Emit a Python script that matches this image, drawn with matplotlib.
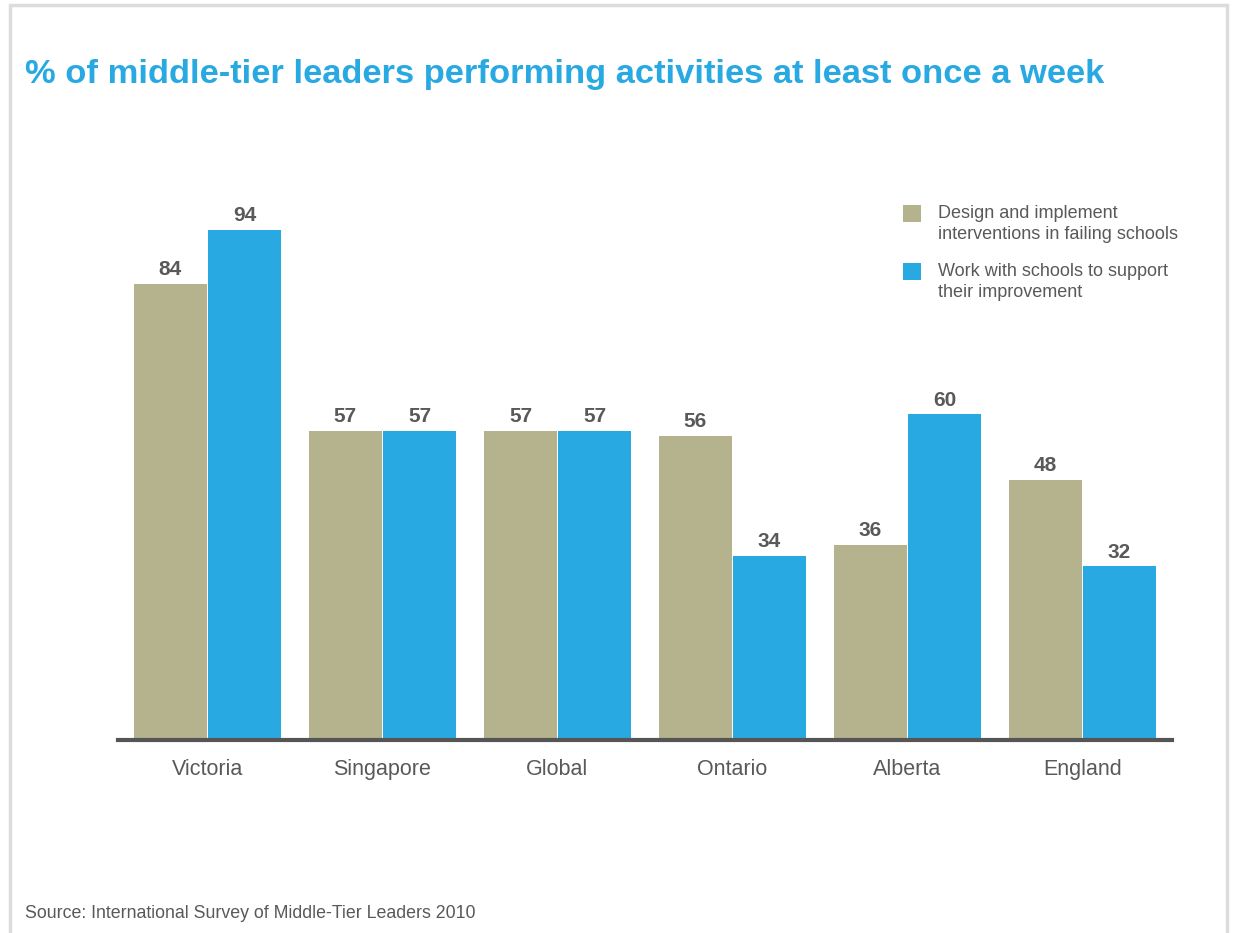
import matplotlib
matplotlib.use("Agg")
import matplotlib.pyplot as plt
import numpy as np
from matplotlib.patches import Rectangle

plt.rcParams['font.family'] = ['Liberation Sans', 'DejaVu Sans']

categories = ["Victoria", "Singapore", "Global", "Ontario", "Alberta", "England"]
interventions = [84, 57, 57, 56, 36, 48]
support = [94, 57, 57, 34, 60, 32]
series_labels = ["Design and implement\ninterventions in failing schools",
                 "Work with schools to support\ntheir improvement"]
title = "% of middle-tier leaders performing activities at least once a week"
source = "Source: International Survey of Middle-Tier Leaders 2010"

OLIVE = "#B5B38E"
BLUE = "#29A9E1"
TEXT = "#595959"

W, H = 1233, 933
fig = plt.figure(figsize=(W / 100, H / 100), dpi=100)
fig.patch.set_facecolor("white")


def fx(px):
    return px / W


def fy(py):
    return 1 - py / H


# light frame around the panel (open at the bottom)
fig.add_artist(Rectangle((fx(10), -0.05), fx(1227) - fx(10), fy(5) + 0.05,
                         transform=fig.transFigure, fill=False,
                         edgecolor="#DCDCDC", linewidth=2.5))

ax_left, ax_right = 118, 1172
base_y, top_y = 740, 740 - 100 * 5.426
ax = fig.add_axes([fx(ax_left), fy(base_y),
                   fx(ax_right) - fx(ax_left), fy(top_y) - fy(base_y)])

x = np.arange(len(categories))
bw = 0.417
b1 = ax.bar(x - bw / 2 - 0.003, interventions, width=bw, color=OLIVE, linewidth=0)
b2 = ax.bar(x + bw / 2 + 0.003, support, width=bw, color=BLUE, linewidth=0)

for bars, vals in ((b1, interventions), (b2, support)):
    for rect, v in zip(bars, vals):
        ax.annotate(f"{v}", (rect.get_x() + rect.get_width() / 2, v),
                    xytext=(0, 3.5), textcoords="offset points",
                    ha="center", va="bottom", fontsize=15, fontweight="bold",
                    color=TEXT)

ax.set_xlim(-0.511, 5.511)
ax.set_ylim(0, 100)
for s in ("top", "right", "left"):
    ax.spines[s].set_visible(False)
ax.spines["bottom"].set_color("#555555")
ax.spines["bottom"].set_linewidth(3)
ax.set_yticks([])
ax.set_xticks(x)
ax.set_xticklabels(categories, fontsize=15.5, color=TEXT)
ax.tick_params(axis="x", length=0, pad=14)

fig.text(fx(25), fy(83), title, fontsize=24.8, fontweight="bold",
         color=BLUE, va="baseline", ha="left")
fig.text(fx(25), fy(918), source, fontsize=12.8, color=TEXT,
         va="baseline", ha="left")

# legend: colour squares with two-line labels
legend_rows = [(OLIVE, series_labels[0], 205), (BLUE, series_labels[1], 263)]
for color, label, top in legend_rows:
    fig.add_artist(Rectangle((fx(903), fy(top + 17)), fx(18), fy(top) - fy(top + 17),
                             transform=fig.transFigure, facecolor=color,
                             edgecolor="none"))
    fig.text(fx(938), fy(top), label, fontsize=13, color=TEXT,
             va="top", ha="left", linespacing=1.3)

fig.savefig("out.png", dpi=100, facecolor="white")
